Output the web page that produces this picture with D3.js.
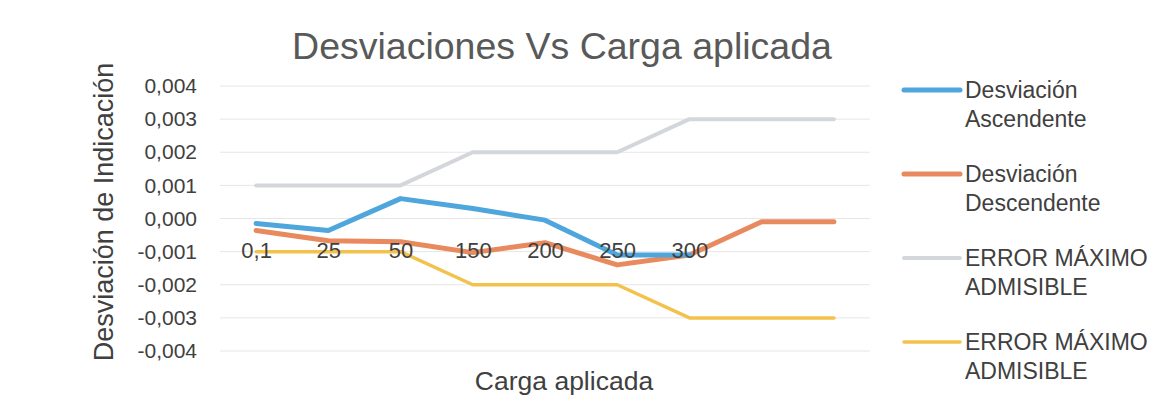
<!DOCTYPE html>
<html>
<head>
<meta charset="utf-8">
<script src="https://cdn.jsdelivr.net/npm/d3@7.9.0/dist/d3.min.js"></script>
<style>
  body { margin: 0; background: #fff; }
  svg text { font-family: "Liberation Sans", Arial, sans-serif; }
</style>
</head>
<body>
<svg id="chart" width="1156" height="408"></svg>
<script>
// Chart data
const categories = ['0,1', '25', '50', '150', '200', '250', '300', '', ''];
const ascendente = [-0.00015, -0.00036, 0.0006, 0.0003, -0.00005, -0.0011, -0.0011];
const descendente = [-0.00036, -0.00067, -0.0007, -0.00103, -0.00073, -0.0014, -0.0011, -0.0001, -0.0001];
const emaPositivo = [0.001, 0.001, 0.001, 0.002, 0.002, 0.002, 0.003, 0.003, 0.003];
const emaNegativo = [-0.001, -0.001, -0.001, -0.002, -0.002, -0.002, -0.003, -0.003, -0.003];
const yTicks = [0.004, 0.003, 0.002, 0.001, 0, -0.001, -0.002, -0.003, -0.004];

const series = [
    { name: ['Desviación', 'Ascendente'], values: ascendente, color: '#4ea6dc', width: 5 },
    { name: ['Desviación', 'Descendente'], values: descendente, color: '#e98a5e', width: 5 },
    { name: ['ERROR MÁXIMO', 'ADMISIBLE'], values: emaPositivo, color: '#d3d6db', width: 4 },
    { name: ['ERROR MÁXIMO', 'ADMISIBLE'], values: emaNegativo, color: '#f3c24c', width: 3.5 }
];

const svg = d3.select('#chart');

const x = d3.scalePoint()
    .domain(d3.range(categories.length))
    .range([220, 870])
    .padding(0.5);

const y = d3.scaleLinear()
    .domain([-0.004, 0.004])
    .range([351, 86]);

const fmt = v => d3.format('.3f')(Math.abs(v)).replace('.', ',');
const tickText = v => (v < 0 ? '-' : '') + fmt(v);

// gridlines
svg.append('g')
    .selectAll('line')
    .data(yTicks)
    .enter()
    .append('line')
    .attr('x1', 220)
    .attr('x2', 870)
    .attr('y1', d => y(d))
    .attr('y2', d => y(d))
    .attr('stroke', '#e6e6e6')
    .attr('stroke-width', 1);

// y axis labels
const yAxis = d3.axisLeft(y).tickValues(yTicks).tickFormat(tickText).tickSize(0).tickPadding(0);
svg.append('g')
    .attr('transform', 'translate(197,0)')
    .call(yAxis)
    .call(g => g.select('.domain').remove())
    .selectAll('text')
    .attr('font-size', 21)
    .attr('fill', '#404040')
    .attr('font-family', '"Liberation Sans", Arial, sans-serif');

// lines
const line = d3.line()
    .x((d, i) => x(i))
    .y(d => y(d));

svg.append('g')
    .selectAll('path')
    .data(series.slice().reverse())
    .enter()
    .append('path')
    .attr('d', d => line(d.values))
    .attr('fill', 'none')
    .attr('stroke', d => d.color)
    .attr('stroke-width', d => d.width)
    .attr('stroke-linejoin', 'round')
    .attr('stroke-linecap', 'round');

// category labels sit next to the zero line
const xAxis = d3.axisBottom(x).tickFormat(i => categories[i]).tickSize(0).tickPadding(0);
svg.append('g')
    .attr('transform', `translate(0,${y(0) + 39})`)
    .call(xAxis)
    .call(g => g.select('.domain').remove())
    .selectAll('text')
    .attr('dy', 0)
    .attr('font-size', 22)
    .attr('fill', '#404040')
    .attr('font-family', 'Lato, "Open Sans", sans-serif');

// title
svg.append('text')
    .attr('x', 562)
    .attr('y', 59)
    .attr('text-anchor', 'middle')
    .attr('font-size', 37.5)
    .attr('fill', '#595959')
    .text('Desviaciones Vs Carga aplicada');

// axis titles
svg.append('text')
    .attr('transform', 'translate(113,212) rotate(-90)')
    .attr('text-anchor', 'middle')
    .attr('font-size', 27)
    .attr('fill', '#404040')
    .text('Desviación de Indicación');

svg.append('text')
    .attr('x', 564)
    .attr('y', 390)
    .attr('text-anchor', 'middle')
    .attr('font-size', 26.5)
    .attr('fill', '#404040')
    .text('Carga aplicada');

// legend
const legend = svg.append('g').attr('transform', 'translate(904,90)');
const item = legend.selectAll('g')
    .data(series)
    .enter()
    .append('g')
    .attr('transform', (d, i) => `translate(0,${i * 84})`);

item.append('line')
    .attr('x1', 0)
    .attr('x2', 56)
    .attr('stroke', d => d.color)
    .attr('stroke-width', d => d.width)
    .attr('stroke-linecap', 'round');

item.append('text')
    .attr('font-size', 23)
    .attr('fill', '#404040')
    .selectAll('tspan')
    .data(d => d.name)
    .enter()
    .append('tspan')
    .attr('x', 61)
    .attr('y', (d, i) => 8 + i * 29)
    .text(d => d);
</script>
</body>
</html>
